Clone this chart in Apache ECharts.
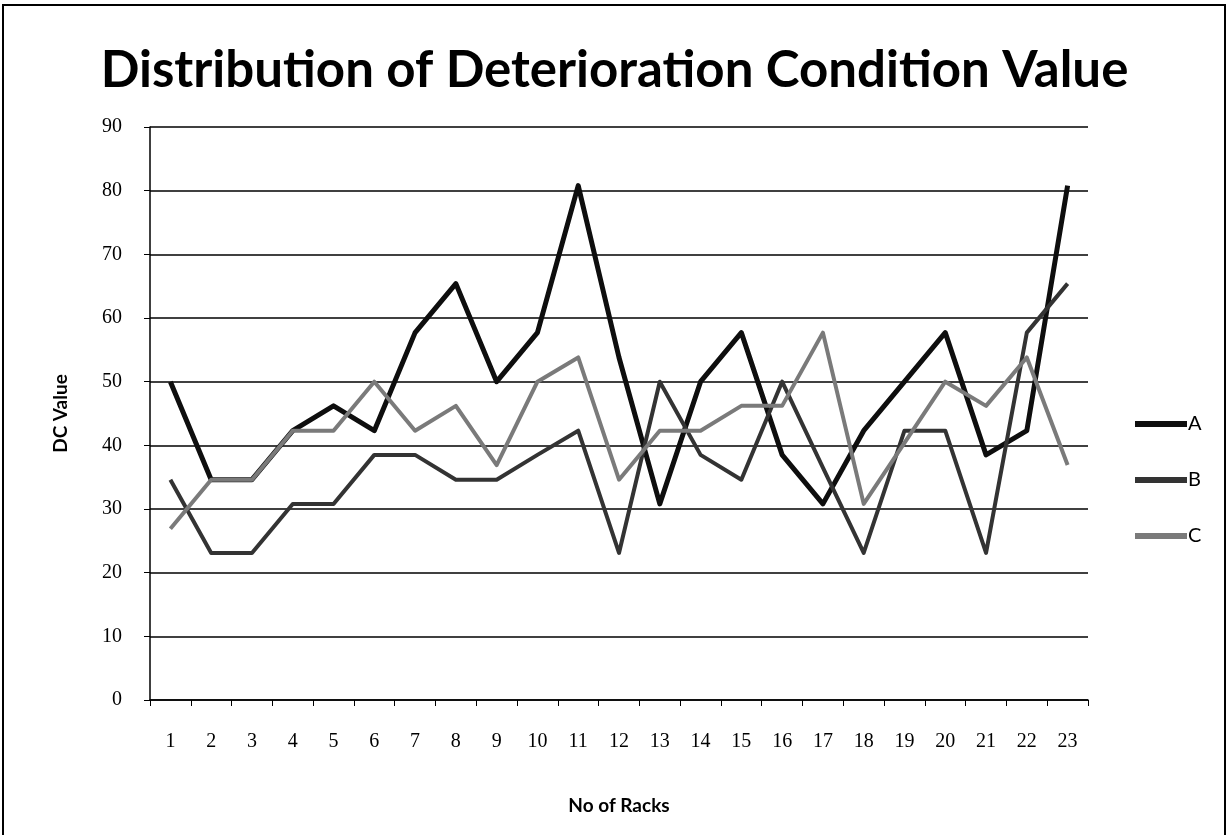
<!DOCTYPE html>
<html>
<head>
<meta charset="utf-8">
<script src="https://cdn.jsdelivr.net/npm/echarts@6/dist/echarts.min.js"></script>
<style>
  html, body { margin: 0; padding: 0; background: #fff; }
  #chart { width: 1229px; height: 835px; }
</style>
</head>
<body>
<div id="chart"></div>
<script>
// racks on the x axis
const racks = ['1','2','3','4','5','6','7','8','9','10','11','12','13','14','15','16','17','18','19','20','21','22','23']

// DC values
const seriesA = [50, 34.6, 34.6, 42.3, 46.2, 42.3, 57.7, 65.4, 50, 57.7, 80.8, 53.8, 30.8, 50, 57.7, 38.5, 30.8, 42.3, 50, 57.7, 38.5, 42.3, 80.8]
const seriesB = [34.6, 23.1, 23.1, 30.8, 30.8, 38.5, 38.5, 34.6, 34.6, 38.5, 42.3, 23.1, 50, 38.5, 34.6, 50, 36.5, 23.1, 42.3, 42.3, 23.1, 57.7, 65.4]
const seriesC = [26.9, 34.6, 34.6, 42.3, 42.3, 50, 42.3, 46.2, 36.9, 50, 53.8, 34.6, 42.3, 42.3, 46.2, 46.2, 57.7, 30.8, 40.4, 50, 46.2, 53.8, 36.9]

const seriesNames = ['A', 'B', 'C']
const seriesColors = ['#0e0e0e', '#333333', '#7a7a7a']
const seriesWidths = [5, 4, 4]

const chart = echarts.init(document.getElementById('chart'))

const lineSeries = [seriesA, seriesB, seriesC].map((vals, i) => ({
  name: seriesNames[i],
  type: 'line',
  data: vals,
  symbol: 'none',
  lineStyle: { color: seriesColors[i], width: seriesWidths[i], join: 'round' },
  itemStyle: { color: seriesColors[i] },
  animation: false
}))

chart.setOption({
  backgroundColor: '#fff',
  title: {
    text: 'Distribution of Deterioration Condition Value',
    left: 'center',
    top: 40,
    textStyle: {
      fontFamily: 'Lato',
      fontWeight: 'bold',
      fontSize: 51,
      color: '#000'
    }
  },
  graphic: [
    {
      type: 'rect',
      shape: { x: 3, y: 5, width: 1222, height: 840 },
      style: { fill: 'none', stroke: '#000', lineWidth: 2 },
      silent: true
    }
  ],
  legend: {
    orient: 'vertical',
    left: 1130,
    top: 409,
    itemGap: 36,
    itemWidth: 52,
    itemHeight: 6,
    icon: 'rect',
    textStyle: { fontFamily: 'Lato', fontSize: 20, color: '#000', padding: [0, 0, 0, -4] },
    data: seriesNames
  },
  grid: {
    left: 150,
    right: 141,
    top: 127,
    bottom: 135
  },
  xAxis: {
    type: 'category',
    data: racks,
    boundaryGap: true,
    name: 'No of Racks',
    nameLocation: 'middle',
    nameGap: 96,
    nameTextStyle: { fontFamily: 'Lato', fontWeight: 'bold', fontSize: 19, color: '#000' },
    axisLine: { lineStyle: { color: '#000', width: 1.5 } },
    axisTick: { show: true, alignWithLabel: false, length: 6, lineStyle: { color: '#000' } },
    axisLabel: { fontFamily: 'Liberation Serif', fontSize: 20, color: '#000', margin: 32, interval: 0 },
    splitLine: { show: false }
  },
  yAxis: {
    type: 'value',
    min: 0,
    max: 90,
    interval: 10,
    name: 'DC Value',
    nameLocation: 'middle',
    nameGap: 80,
    nameRotate: 90,
    nameTextStyle: { fontFamily: 'Lato', fontWeight: 'bold', fontSize: 19, color: '#000' },
    axisLine: { show: true, lineStyle: { color: '#000', width: 1.5 } },
    axisTick: { show: true, length: 6, lineStyle: { color: '#000' } },
    axisLabel: { fontFamily: 'Liberation Serif', fontSize: 20, color: '#000', margin: 28 },
    splitLine: { show: true, lineStyle: { color: '#000', width: 1.5 } }
  },
  series: lineSeries
})
</script>
</body>
</html>
